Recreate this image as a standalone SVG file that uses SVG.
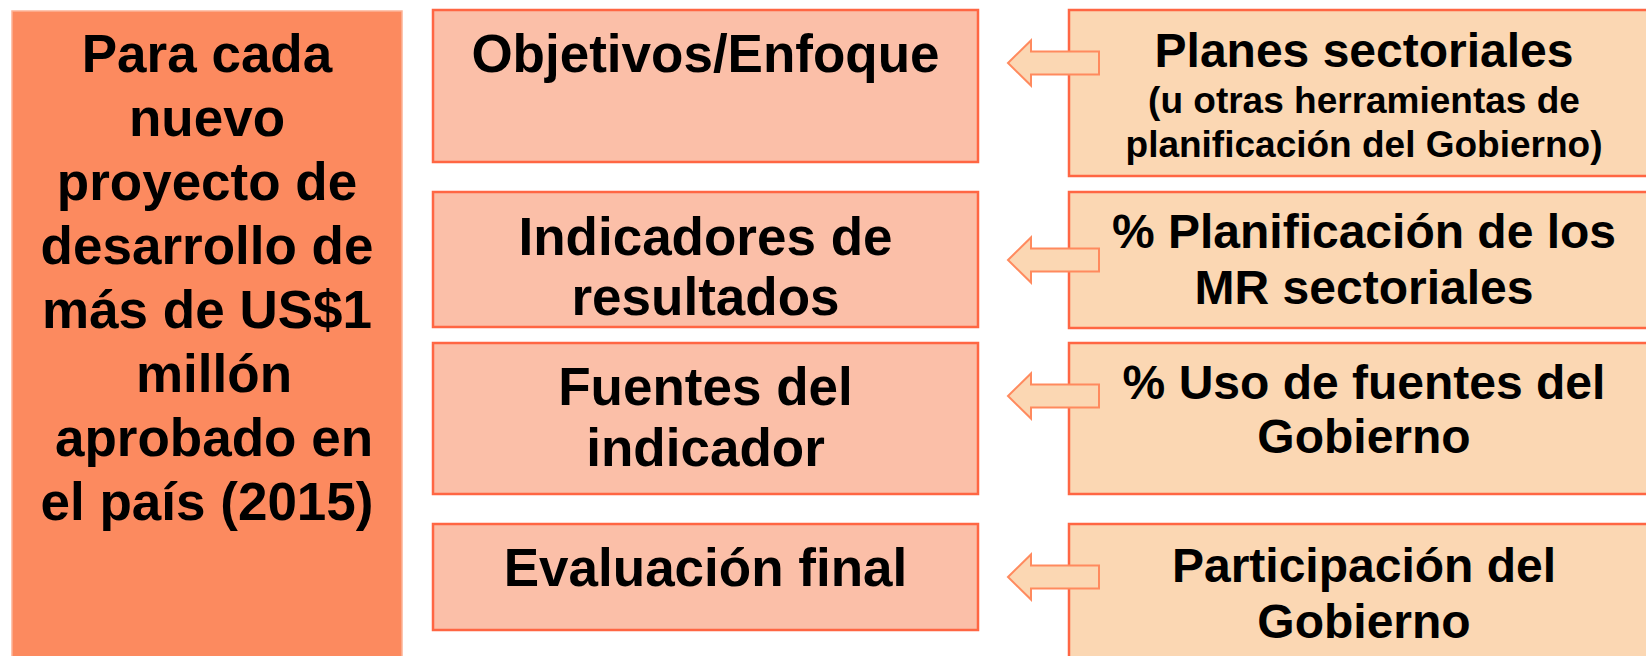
<svg xmlns="http://www.w3.org/2000/svg" width="1646" height="656" viewBox="0 0 1646 656">
<style>
  text { font-family: "Liberation Sans", Arial, sans-serif; font-weight: bold; fill: #000; text-anchor: middle; }
  .big { font-size: 53px; }
  .rt { font-size: 48px; }
  .sm { font-size: 37px; }
  .left { fill: #FC8A5F; stroke: #FDB396; stroke-width: 1.5; }
  .mid { fill: #FBBFA8; stroke: #FF6643; stroke-width: 2.5; }
  .right { fill: #FBD7B3; stroke: #FF6643; stroke-width: 2.5; }
  .arrow { fill: #FBD7B3; stroke: #FF8A5E; stroke-width: 2; stroke-linejoin: miter; }
</style>
<defs>
  <path id="arr" d="M0,0 L23,-22.5 L23,-11.5 L91,-11.5 L91,11.5 L23,11.5 L23,22.5 Z"/>
</defs>
<rect width="1646" height="656" fill="#FFFFFF"/>

<g id="node-left">
  <rect class="left" x="12" y="11" width="390" height="660"/>
  <text class="big" x="207" y="72">Para cada</text>
  <text class="big" x="207" y="136">nuevo</text>
  <text class="big" x="207" y="200">proyecto de</text>
  <text class="big" x="207" y="264">desarrollo de</text>
  <text class="big" x="207" y="328">más de US$1</text>
  <text class="big" x="214" y="392">millón</text>
  <text class="big" x="214" y="456">aprobado en</text>
  <text class="big" x="207" y="520">el país (2015)</text>
</g>

<g id="node-objetivos">
  <rect class="mid" x="433" y="10" width="545" height="152"/>
  <text class="big" x="705.5" y="72">Objetivos/Enfoque</text>
</g>
<g id="node-indicadores">
  <rect class="mid" x="433" y="192" width="545" height="135"/>
  <text class="big" x="705.5" y="255">Indicadores de</text>
  <text class="big" x="705.5" y="315">resultados</text>
</g>
<g id="node-fuentes">
  <rect class="mid" x="433" y="343" width="545" height="151"/>
  <text class="big" x="705.5" y="405">Fuentes del</text>
  <text class="big" x="705.5" y="466">indicador</text>
</g>
<g id="node-evaluacion">
  <rect class="mid" x="433" y="524" width="545" height="106"/>
  <text class="big" x="705.5" y="586">Evaluación final</text>
</g>

<g id="node-planes">
  <rect class="right" x="1069" y="10" width="600" height="166"/>
  <text class="rt" x="1364" y="67">Planes sectoriales</text>
  <text class="sm" x="1364" y="113">(u otras herramientas de</text>
  <text class="sm" x="1364" y="157">planificación del Gobierno)</text>
</g>
<g id="node-planificacion">
  <rect class="right" x="1069" y="192" width="600" height="136"/>
  <text class="rt" x="1364" y="248">% Planificación de los</text>
  <text class="rt" x="1364" y="304">MR sectoriales</text>
</g>
<g id="node-uso">
  <rect class="right" x="1069" y="343" width="600" height="151"/>
  <text class="rt" x="1364" y="399">% Uso de fuentes del</text>
  <text class="rt" x="1364" y="453">Gobierno</text>
</g>
<g id="node-participacion">
  <rect class="right" x="1069" y="524" width="600" height="150"/>
  <text class="rt" x="1364" y="582">Participación del</text>
  <text class="rt" x="1364" y="638">Gobierno</text>
</g>

<g id="connectors">
  <use href="#arr" class="arrow" transform="translate(1008,63)"/>
  <use href="#arr" class="arrow" transform="translate(1008,260)"/>
  <use href="#arr" class="arrow" transform="translate(1008,396)"/>
  <use href="#arr" class="arrow" transform="translate(1008,577)"/>
</g>
</svg>
